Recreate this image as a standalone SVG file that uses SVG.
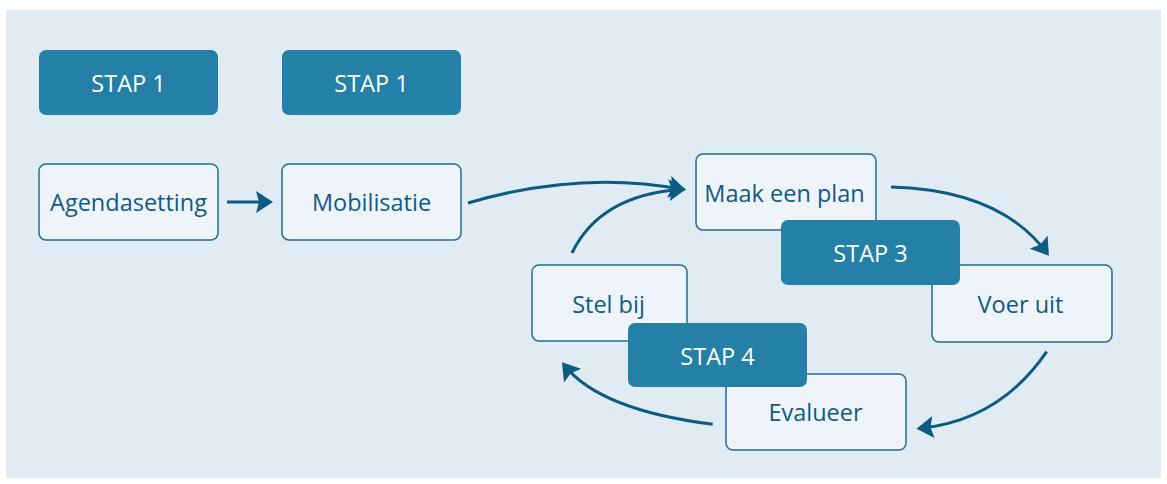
<svg xmlns="http://www.w3.org/2000/svg" width="1167" height="484" viewBox="0 0 1167 484">
<style>
.node rect{fill:#eef4fa;stroke:#1f6d95;stroke-width:1.5}
.node text{fill:#0f5b83;font-family:"Open Sans","Noto Sans",sans-serif;font-size:23.5px;text-anchor:middle}
.stap rect{fill:#2580a7}
.stap text{fill:#ffffff;font-family:"Open Sans","Noto Sans",sans-serif;font-size:23.5px;text-anchor:middle}
.conn path{fill:none;stroke:#0d5a82;stroke-width:3}
</style>
<defs>
<marker id="ah" markerUnits="userSpaceOnUse" markerWidth="17" markerHeight="22" refX="13" refY="11" orient="auto">
<path d="M0,0 L17,11 L0,22 L3,11 z" fill="#0d5a82"/>
</marker>
</defs>
<rect x="0" y="0" width="1167" height="484" fill="#ffffff"/>
<rect x="6" y="10" width="1155" height="468" fill="#e1ebf4"/>
<g id="stap1a" class="stap"><rect x="39" y="50" width="179" height="65" rx="7"/><text x="128.5" y="92">STAP 1</text></g>
<g id="stap1b" class="stap"><rect x="282" y="50" width="179" height="65" rx="7"/><text x="371.5" y="92">STAP 1</text></g>
<g id="agendasetting" class="node"><rect x="39" y="164" width="179" height="76" rx="7"/><text x="128.5" y="210.5">Agendasetting</text></g>
<g id="mobilisatie" class="node"><rect x="282" y="164" width="179" height="76" rx="7"/><text x="371.5" y="210.5">Mobilisatie</text></g>
<g id="maakeenplan" class="node"><rect x="696" y="154" width="180" height="76" rx="7"/><text x="784.5" y="201.5">Maak een plan</text></g>
<g id="voeruit" class="node"><rect x="932" y="265" width="180" height="77" rx="7"/><text x="1020.5" y="312.5">Voer uit</text></g>
<g id="stelbij" class="node"><rect x="532" y="265" width="155" height="76" rx="7"/><text x="608.5" y="312.5">Stel bij</text></g>
<g id="evalueer" class="node"><rect x="726" y="374" width="180" height="76" rx="7"/><text x="815.5" y="420.5">Evalueer</text></g>
<g id="stap3" class="stap"><rect x="781" y="220" width="179" height="65" rx="7"/><text x="870.5" y="262">STAP 3</text></g>
<g id="stap4" class="stap"><rect x="628" y="323" width="179" height="64" rx="7"/><text x="717.5" y="365">STAP 4</text></g>
<g id="connectors" class="conn">
<path d="M227,202 L269,202" marker-end="url(#ah)"/>
<path d="M468,203 Q580,170 682,189.3" marker-end="url(#ah)"/>
<path d="M572,253 Q600,195 682,189.3" marker-end="url(#ah)"/>
<path d="M891,187 Q1000,190 1046.5,252.5" marker-end="url(#ah)"/>
<path d="M1046.7,351.7 Q1000,420 920.5,428.3" marker-end="url(#ah)"/>
<path d="M712.7,424.3 Q600,410 564.5,365.5" marker-end="url(#ah)"/>
</g>
</svg>
